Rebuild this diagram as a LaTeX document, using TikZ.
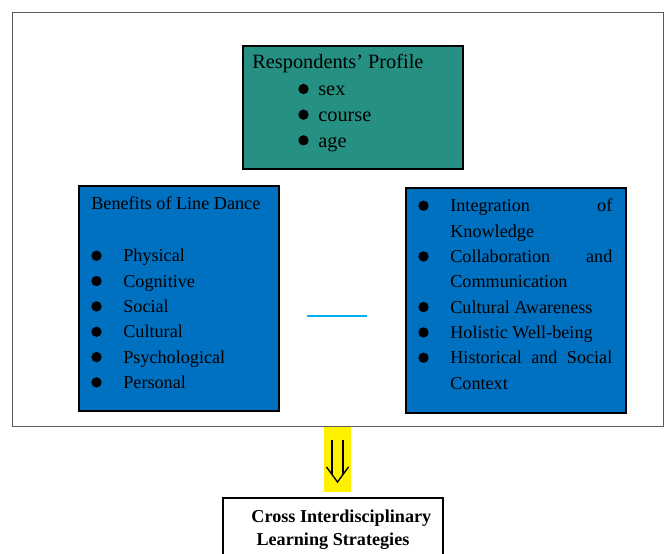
\documentclass[tikz,border=0pt]{standalone}
\usepackage{fontspec}
\setmainfont{Liberation Serif}
\usepackage{array}
\usetikzlibrary{arrows.meta,positioning}

\definecolor{profteal}{RGB}{38,145,130}
\definecolor{boxblue}{RGB}{0,112,192}
\definecolor{linkcyan}{RGB}{0,176,240}
\definecolor{framegray}{RGB}{90,90,90}

\newcommand{\dotmark}{\tikz[baseline=-0.75ex]\fill (0,0) circle (3.1pt);}
\newcommand{\boxfont}{\fontsize{10.9}{15.2}\selectfont}

\begin{document}
\begin{tikzpicture}[x=0.6pt, y=-0.6pt,
    panel/.style={draw=black, line width=1pt, inner sep=0pt, anchor=north west},
    listtext/.style={inner sep=0pt, anchor=base west, font=\boxfont}
]
    \useasboundingbox (0,0) rectangle (667,554);
    \clip (0,0) rectangle (667,554);

    % Outer frame
    \node[draw=framegray, line width=0.7pt, inner sep=0pt, anchor=north west,
          minimum width=390.6pt, minimum height=248.4pt] (frame) at (12,12) {};

    % Respondents' profile
    \node[panel, fill=profteal, minimum width=132pt, minimum height=73.8pt] (profile) at (242,45) {};
    \node[inner sep=0pt, anchor=base west, font=\fontsize{12.2}{15.4}\selectfont] (proftitle) at (252,69) {Respondents’ Profile};
    \node[inner sep=0pt, anchor=base west, font=\fontsize{12.2}{15.4}\selectfont] (proflist) at (298,96)
        {\begin{tabular}[t]{@{}p{12pt}@{}l@{}}
            \dotmark & sex \\
            \dotmark & course \\
            \dotmark & age
        \end{tabular}};

    % Benefits of line dance
    \node[panel, fill=boxblue, minimum width=120pt, minimum height=135pt] (benefits) at (78,185) {};
    \node[listtext] (bentitle) at (91,210) {Benefits of Line Dance};
    \node[listtext] (benlist) at (91,262)
        {\begin{tabular}[t]{@{}p{19.2pt}@{}l@{}}
            \dotmark & Physical \\
            \dotmark & Cognitive \\
            \dotmark & Social \\
            \dotmark & Cultural \\
            \dotmark & Psychological \\
            \dotmark & Personal
        \end{tabular}};

    % Interdisciplinary outcomes
    \node[panel, fill=boxblue, minimum width=132pt, minimum height=135pt] (outcomes) at (405,187) {};
    \node[listtext] (outlist) at (418,212)
        {\begin{tabular}[t]{@{}p{19.2pt}@{}p{97.2pt}@{}}
            \dotmark & Integration\hfill of\newline Knowledge \\
            \dotmark & Collaboration\hfill and\newline Communication \\
            \dotmark & Cultural Awareness \\
            \dotmark & Holistic Well-being \\
            \dotmark & Historical\hfill and\hfill Social\newline Context
        \end{tabular}};

    % Link between boxes
    \coordinate (linkL) at (307,316);
    \coordinate (linkR) at (367,316);
    \draw[linkcyan, line width=1.2pt] (linkL) -- (linkR);

    % Arrow to strategies
    \node[fill=yellow, inner sep=0pt, anchor=north west, minimum width=16.2pt, minimum height=39pt] (mark) at (324,427) {};
    \draw[line width=0.8pt] (332,440) -- (332,474) (343,440) -- (343,474);
    \draw[line width=0.8pt, line join=miter] (326.5,467) -- (337.5,482) -- (348.5,467);

    % Strategies
    \node[draw=black, line width=1.2pt, inner sep=0pt, anchor=north west,
          minimum width=132pt, minimum height=60pt] (strategy) at (222,497) {};
    \node[inner sep=0pt, anchor=base, align=center, font=\bfseries\fontsize{10.9}{13.8}\selectfont] (strattext) at (333,545)
        {\hspace*{10pt}Cross Interdisciplinary\\Learning Strategies};
\end{tikzpicture}
\end{document}
